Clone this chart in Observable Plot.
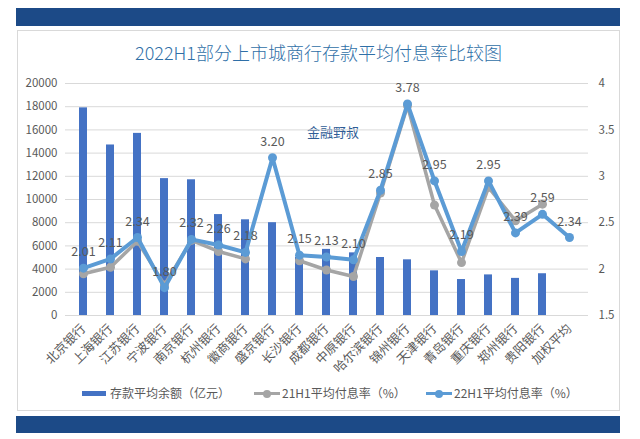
<!DOCTYPE html>
<html>
<head>
<meta charset="utf-8">
<script src="https://cdn.jsdelivr.net/npm/d3@7"></script>
<script src="https://cdn.jsdelivr.net/npm/@observablehq/plot@0.6"></script>
<style>
  body { margin: 0; background: #fff; font-family: "Noto Sans CJK SC", "Noto Sans", sans-serif; }
  #wrap { position: relative; width: 640px; height: 439px; overflow: hidden; background: #fff; }
  .band { position: absolute; left: 16px; width: 604px; background: #1c4a87; }
  #card { position: absolute; left: 17px; top: 30px; width: 603px; height: 381px; border: 1px solid #d9d9d9; box-sizing: border-box; }
  #title { position: absolute; left: 17px; width: 603px; top: 40px; text-align: center; font-size: 18px; line-height: 24px; color: #2f6fa7; font-weight: 300; }
  #wm { position: absolute; left: 307px; top: 123px; font-size: 13px; line-height: 18px; color: #2e5d96; }
  #chart { position: absolute; left: 0; top: 0; }
  .lg { position: absolute; font-size: 12px; line-height: 16px; color: #595959; white-space: nowrap; }
</style>
</head>
<body>
<div id="wrap">
  <div class="band" style="top:8px;height:18px"></div>
  <div id="card"></div>
  <div class="band" style="top:416px;height:17px"></div>
  <div id="title"></div>
  <div id="wm">金融野叔</div>
  <div id="chart"></div>
  <div id="legend"></div>
</div>
<script>
const titleText = "2022H1部分上市城商行存款平均付息率比较图";
const banks = ["北京银行","上海银行","江苏银行","宁波银行","南京银行","杭州银行","徽商银行","盛京银行","长沙银行","成都银行","中原银行","哈尔滨银行","锦州银行","天津银行","青岛银行","重庆银行","郑州银行","贵阳银行","加权平均"];
const deposits = [17900,14700,15700,11800,11700,8700,8250,8000,5000,5700,5400,5000,4800,3850,3100,3500,3200,3600,null];
const rate21 = [1.95,2.02,2.30,1.83,2.31,2.19,2.11,null,2.09,1.99,1.92,2.82,3.76,2.69,2.07,2.88,2.52,2.70,null];
const rate22 = [2.01,2.11,2.34,1.80,2.32,2.26,2.18,3.20,2.15,2.13,2.10,2.85,3.78,2.95,2.19,2.95,2.39,2.59,2.34];
const leftTicks = [0,2000,4000,6000,8000,10000,12000,14000,16000,18000,20000];
const rightTicks = [1.5,2,2.5,3,3.5,4];
const seriesNames = ["存款平均余额（亿元）","21H1平均付息率（%）","22H1平均付息率（%）"];

document.getElementById("title").textContent = titleText;

const yMax = 20000, rMin = 1.5, rMax = 4;
const toY = r => (r == null ? NaN : (r - rMin) / (rMax - rMin) * yMax);
const fromY = v => rMin + v / yMax * (rMax - rMin);

const barRows = banks.map((b, i) => ({bank: b, value: deposits[i]})).filter(d => d.value != null);
const rows21 = banks.map((b, i) => ({bank: b, r: rate21[i]})).filter((d, i) => i < 18);
const rows22 = banks.map((b, i) => ({bank: b, r: rate22[i]}));
const font = '"Noto Sans CJK SC", "Noto Sans", sans-serif';

const plot = Plot.plot({
  width: 640, height: 380,
  marginLeft: 65, marginRight: 52, marginTop: 83, marginBottom: 65,
  style: {fontFamily: font, fontSize: "11.5px", color: "#595959", background: "transparent", overflow: "visible"},
  x: {domain: banks, paddingInner: 0.7, paddingOuter: 0.35, label: null},
  y: {domain: [0, yMax], label: null},
  marks: [
    Plot.gridY(leftTicks, {stroke: "#d9d9d9", strokeOpacity: 1, strokeWidth: 1}),
    Plot.axisY(leftTicks, {anchor: "left", tickSize: 0, tickPadding: 8, label: null, fill: "#595959", tickFormat: d => String(d)}),
    Plot.axisY(rightTicks.map(toY), {anchor: "right", tickSize: 0, tickPadding: 10, label: null, fill: "#595959",
      tickFormat: v => String(+fromY(v).toFixed(1))}),
    Plot.axisX({tickRotate: -45, tickSize: 0, tickPadding: 11, label: null, fill: "#595959", fontSize: 12.5}),
    Plot.barY(barRows, {x: "bank", y: "value", fill: "#4472c4"}),
    Plot.line(rows21, {x: "bank", y: d => toY(d.r), stroke: "#a5a5a5", strokeWidth: 3.5}),
    Plot.dot(rows21.filter(d => d.r != null), {x: "bank", y: d => toY(d.r), r: 4.5, fill: "#a5a5a5"}),
    Plot.line(rows22, {x: "bank", y: d => toY(d.r), stroke: "#5b9bd5", strokeWidth: 4}),
    Plot.dot(rows22, {x: "bank", y: d => toY(d.r), r: 4.5, fill: "#5b9bd5"}),
    Plot.text(rows22, {x: "bank", y: d => toY(d.r), text: d => d.r.toFixed(2), dy: -16, fill: "#595959", fontSize: 12.5})
  ]
});
document.getElementById("chart").appendChild(plot);

// legend
const lg = document.getElementById("legend");
const items = [
  {name: seriesNames[0], kind: "bar", color: "#4472c4", x: 82, tx: 110},
  {name: seriesNames[1], kind: "line", color: "#a5a5a5", x: 254, tx: 282},
  {name: seriesNames[2], kind: "line", color: "#5b9bd5", x: 426, tx: 454}
];
items.forEach(it => {
  const m = document.createElement("div");
  m.style.position = "absolute";
  if (it.kind === "bar") {
    Object.assign(m.style, {left: it.x + "px", top: "391px", width: "24px", height: "5px", background: it.color});
  } else {
    Object.assign(m.style, {left: it.x + "px", top: "392px", width: "26px", height: "3px", background: it.color});
    const c = document.createElement("div");
    Object.assign(c.style, {position: "absolute", left: "9px", top: "-2.5px", width: "8px", height: "8px", borderRadius: "50%", background: it.color});
    m.appendChild(c);
  }
  lg.appendChild(m);
  const t = document.createElement("div");
  t.className = "lg";
  t.textContent = it.name;
  Object.assign(t.style, {left: it.tx + "px", top: "385px"});
  lg.appendChild(t);
});
</script>
</body>
</html>
